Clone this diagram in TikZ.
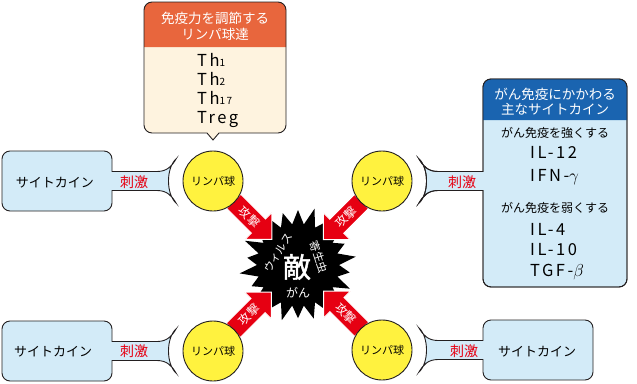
\documentclass[tikz,border=0pt]{standalone}
\usepackage{fontspec}
\setmainfont{Noto Sans CJK JP}
\newfontfamily\jpfb[FakeBold=1.6]{Noto Sans CJK JP}
\newfontfamily\latn[LetterSpace=15]{Noto Sans CJK JP}
\usetikzlibrary{shapes.arrows,calc}
\definecolor{lineblack}{HTML}{231F20}
\definecolor{orhead}{HTML}{E8663D}
\definecolor{cream}{HTML}{FEF3DF}
\definecolor{hdblue}{HTML}{1A64B0}
\definecolor{boxblue}{HTML}{D3EBF8}
\definecolor{lyellow}{HTML}{FFF23F}
\definecolor{ared}{HTML}{E60012}
\newcommand\fsz[1]{\fontsize{#1}{#1}\selectfont}
\newcommand\cytoshape[4]{%
 \draw[#4] (-101,9.5) -- (-56,9.5) .. controls (-46,9.5) and (-41,15) .. (-37,22)
  .. controls (-47,13) and (-47,-13) .. (-37,-22)
  .. controls (-41,-15) and (-46,-9.5) .. (-56,-9.5) -- (-101,-9.5)
  -- (-101,#3+8) arc[start angle=0,end angle=-90,radius=8]
  -- (#1+8,#3) arc[start angle=270,end angle=180,radius=8]
  -- (#1,#2-8) arc[start angle=180,end angle=90,radius=8]
  -- (-109,#2) arc[start angle=90,end angle=0,radius=8] -- cycle;}
\tikzset{
 outline/.style={draw=lineblack, line width=0.9pt},
 cyto/.style={outline, fill=boxblue},
 lymph/.style={circle, draw=lineblack, line width=0.9pt, fill=lyellow, minimum size=60pt, inner sep=0pt, font=\fsz{11}},
 attack/.style={single arrow, fill=ared, draw=white, line width=1pt, minimum height=54pt, minimum width=38pt,
   single arrow head extend=9pt, single arrow head indent=0pt, inner sep=4pt, text=white, font=\fsz{12}},
 hdr/.style={text=white, inner sep=0pt, font=\fsz{13.5}},
 cytolab/.style={inner sep=0pt, font=\fsz{13}},
 stim/.style={inner sep=0pt, text=ared, font=\fsz{14}},
 sublab/.style={inner sep=0pt, font=\fsz{12}},
 lat/.style={anchor=west, inner sep=0pt, text height=12pt, text depth=0pt, font=\latn\fsz{16.5}},
 startext/.style={text=white, inner sep=0pt, font=\fsz{11}}
}
\begin{document}
\begin{tikzpicture}[x=1pt,y=1pt]
\useasboundingbox (0,0) rectangle (637,-383);
\coordinate (enemy) at (298,-265);
\coordinate (p1) at (213,-181);
\coordinate (p2) at (382,-181);
\coordinate (p3) at (213,-351);
\coordinate (p4) at (382,-350);
% cytokine shapes
\begin{scope}[shift={(p1)}] \cytoshape{-211}{30}{-30}{cyto} \end{scope}
\begin{scope}[shift={(p3)}] \cytoshape{-211}{30}{-30}{cyto} \end{scope}
\begin{scope}[shift={(p4)},xscale=-1] \cytoshape{-211}{30}{-30}{cyto} \end{scope}
\begin{scope}[shift={(p2)},xscale=-1]
 \cytoshape{-245}{102}{-106}{cyto}
 \fill[hdblue] (-101,61) -- (-101,94) arc[start angle=0,end angle=90,radius=8] -- (-237,102) arc[start angle=90,end angle=180,radius=8] -- (-245,61) -- cycle;
 \cytoshape{-245}{102}{-106}{outline}
\end{scope}
% top callout
\fill[cream] (207,-133) -- (213,-140) -- (219,-133) -- (278,-133) arc[start angle=-90,end angle=0,radius=8] -- (286,-10) arc[start angle=0,end angle=90,radius=8] -- (152,-2) arc[start angle=90,end angle=180,radius=8] -- (144,-125) arc[start angle=180,end angle=270,radius=8] -- cycle;
\fill[orhead] (144,-47) -- (144,-10) arc[start angle=180,end angle=90,radius=8] -- (278,-2) arc[start angle=90,end angle=0,radius=8] -- (286,-47) -- cycle;
\draw[outline] (207,-133) -- (213,-140) -- (219,-133) -- (278,-133) arc[start angle=-90,end angle=0,radius=8] -- (286,-10) arc[start angle=0,end angle=90,radius=8] -- (152,-2) arc[start angle=90,end angle=180,radius=8] -- (144,-125) arc[start angle=180,end angle=270,radius=8] -- cycle;
% star
\begin{scope}[shift={(enemy)}]
\fill[black] (90:55) \foreach \i in {1,...,43}{ -- ({90+\i*360/44}:{ifthenelse(mod(\i,2)==0,55+4*sin(\i*97),41)}) } -- cycle;
\end{scope}
% arrows
\node[attack, rotate=-45] (a1) at ($(p1)!51pt!(enemy)$) {攻撃};
\node[attack, rotate=45, shape border rotate=180] (a2) at ($(p2)!51pt!(enemy)$) {攻撃};
\node[attack, rotate=45] (a3) at ($(p3)!51pt!(enemy)$) {攻撃};
\node[attack, rotate=-45, shape border rotate=180] (a4) at ($(p4)!51pt!(enemy)$) {攻撃};
% lymphocytes
\node[lymph] (l1) at (p1) {リンパ球};
\node[lymph] (l2) at (p2) {リンパ球};
\node[lymph] (l3) at (p3) {リンパ球};
\node[lymph] (l4) at (p4) {リンパ球};
% star texts
\node[startext, rotate=59] (virus) at (278,-253) {ウィルス};
\node[startext, rotate=-72] (parasite) at (319,-257) {寄生虫};
\node[inner sep=0pt, text=white, font=\jpfb\fsz{28}] (teki) at (297,-267) {敵};
\node[startext, font=\fsz{12}] (gan) at (298,-293) {がん};
% cytokine labels
\node[cytolab] (c1) at (55,-183) {サイトカイン};
\node[stim] (s1) at (134,-182) {刺激};
\node[cytolab] (c3) at (53,-352) {サイトカイン};
\node[stim] (s3) at (134,-351) {刺激};
\node[cytolab] (c4) at (537,-352) {サイトカイン};
\node[stim] (s4) at (464,-351) {刺激};
\node[stim] (s2) at (462,-182) {刺激};
% right box
\node[hdr] (h21) at (555,-94) {がん免疫にかかわる};
\node[hdr] (h22) at (555,-109) {主なサイトカイン};
\node[sublab] (u1) at (555,-133) {がん免疫を強くする};
\node[lat] (k1) at (530,-152) {IL-12};
\node[lat] (k2) at (530,-175) {IFN-$\gamma$};
\node[sublab] (u2) at (555,-208) {がん免疫を弱くする};
\node[lat] (k3) at (530,-229) {IL-4};
\node[lat] (k4) at (530,-249) {IL-10};
\node[lat] (k5) at (530,-270) {TGF-$\beta$};
% top callout texts
\node[hdr] (h11) at (215,-18) {免疫力を調節する};
\node[hdr] (h12) at (215,-34) {リンパ球達};
\node[lat] (t1) at (197,-60) {Th{\fsz{10}1}};
\node[lat] (t2) at (197,-79) {Th{\fsz{10}2}};
\node[lat] (t3) at (197,-98) {Th{\fsz{10}17}};
\node[lat] (t4) at (197,-117) {Treg};
\end{tikzpicture}
\end{document}
